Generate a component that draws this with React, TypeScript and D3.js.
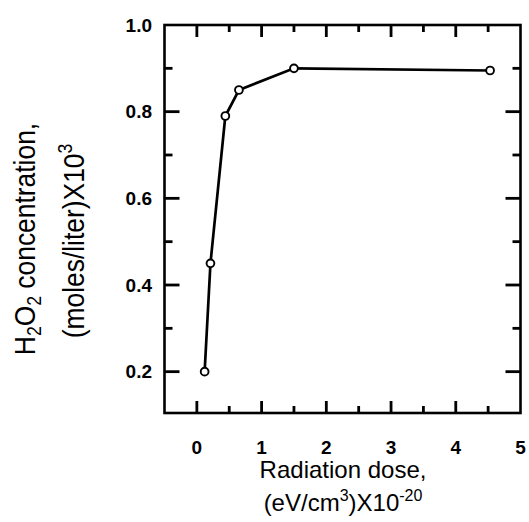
import React from "react";
import * as d3 from "d3";

const doseValues = [0.12, 0.21, 0.44, 0.65, 1.5, 4.53];
const h2o2Values = [0.2, 0.45, 0.79, 0.85, 0.9, 0.895];
const xTickLabels = [0, 1, 2, 3, 4, 5];
const yTickLabels = [0.2, 0.4, 0.6, 0.8, 1.0];
const xMinorTicks = [0, 0.5, 1, 1.5, 2, 2.5, 3, 3.5, 4, 4.5];
const yMinorTicks = [0.2, 0.3, 0.4, 0.5, 0.6, 0.7, 0.8, 0.9];

const W = 529;
const H = 522;
const FONT = "'Liberation Sans', Arial, Helvetica, sans-serif";

export default function App() {
  const x = d3.scaleLinear().domain([-0.5, 5]).range([164.5, 520.5]);
  const y = d3.scaleLinear().domain([0.1, 1.0]).range([415, 25]);
  const x0 = x(-0.5);
  const x1 = x(5);
  const y1 = y(1.0);
  const y0 = 413;

  const lineGen = d3
    .line<number>()
    .x((_, i) => x(doseValues[i]))
    .y((d) => y(d));

  const isMajorX = (v: number) => Math.abs(v - Math.round(v)) < 1e-6;
  const isMajorY = (v: number) => Math.abs(v * 5 - Math.round(v * 5)) < 1e-6;
  const tw = 2.8;
  const col = "#000";

  return (
    <svg
      width={W}
      height={H}
      style={{ position: "absolute", left: 0, top: 0, background: "#fff" }}
      fontFamily={FONT}
    >
      <rect x={0} y={0} width={W} height={H} fill="#fff" />
      {xMinorTicks.map((v) => {
        const len = isMajorX(v) ? 12 : 7;
        const px = x(v);
        return (
          <g key={"xt" + v}>
            <rect x={px - tw / 2} y={y0 - len} width={tw} height={len} fill={col} />
            <rect x={px - tw / 2} y={y1} width={tw} height={len} fill={col} />
          </g>
        );
      })}
      {yMinorTicks.map((v) => {
        const len = isMajorY(v) ? 15 : 8;
        const py = y(v);
        return (
          <g key={"yt" + v}>
            <rect x={x0} y={py - tw / 2} width={len} height={tw} fill={col} />
            <rect x={x1 - len} y={py - tw / 2} width={len} height={tw} fill={col} />
          </g>
        );
      })}
      <rect
        x={x0}
        y={y1}
        width={x1 - x0}
        height={y0 - y1}
        fill="none"
        stroke="#000"
        strokeWidth={2.6}
      />
      {xTickLabels.map((v) => (
        <text key={"xl" + v} x={x(v)} y={454} textAnchor="middle" fontSize={19} fontWeight="bold" fill="#000">
          {v}
        </text>
      ))}
      {yTickLabels.map((v) => (
        <text key={"yl" + v} x={152} y={y(v)} dy="0.35em" textAnchor="end" fontSize={19} fontWeight="bold" fill="#000">
          {v.toFixed(1)}
        </text>
      ))}
      <path d={lineGen(h2o2Values) || ""} fill="none" stroke="#000" strokeWidth={2.7} />
      {h2o2Values.map((v, i) => (
        <circle key={"pt" + i} cx={x(doseValues[i])} cy={y(v)} r={3.9} fill="#fff" stroke="#000" strokeWidth={1.9} />
      ))}
      <text x={343} y={478} textAnchor="middle" fontSize={24} fill="#000">
        Radiation dose,
      </text>
      <text x={343} y={511} textAnchor="middle" fontSize={24} fill="#000">
        (eV/cm
        <tspan fontSize={16} dy={-10}>3</tspan>
        <tspan dy={10}>)X10</tspan>
        <tspan fontSize={16} dy={-10}>-20</tspan>
      </text>
      <g transform="translate(35,239) rotate(-90) scale(0.88,1)">
        <text x={0} y={0} textAnchor="middle" fontSize={30} fill="#000">
          H<tspan fontSize={20} dy={6}>2</tspan>
          <tspan dy={-6}>O</tspan>
          <tspan fontSize={20} dy={6}>2</tspan>
          <tspan dy={-6}> concentration,</tspan>
        </text>
      </g>
      <g transform="translate(84,241) rotate(-90) scale(0.88,1)">
        <text x={0} y={0} textAnchor="middle" fontSize={30} fill="#000">
          (moles/liter)X10
          <tspan fontSize={20} dy={-12}>3</tspan>
        </text>
      </g>
    </svg>
  );
}
